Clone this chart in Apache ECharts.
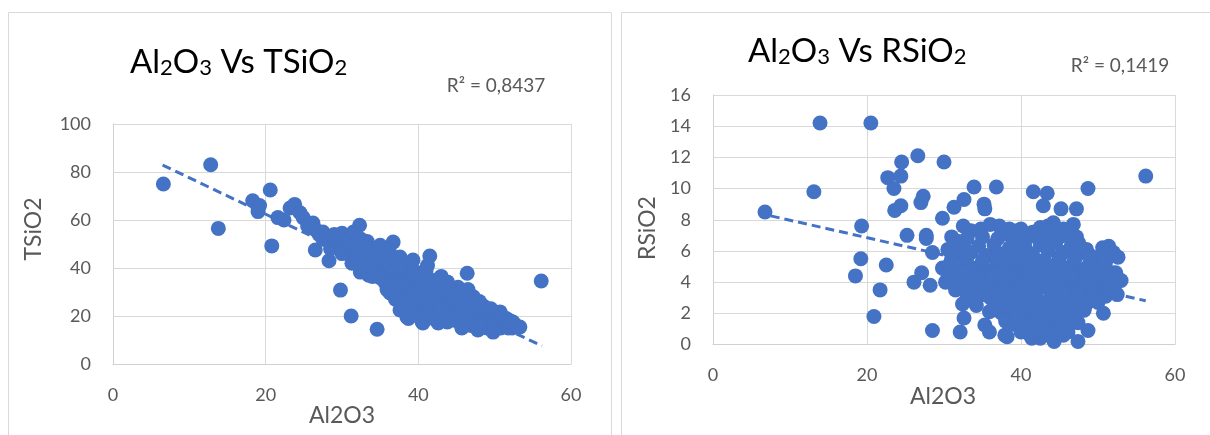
<!DOCTYPE html>
<html>
<head>
<meta charset="utf-8">
<script src="https://cdn.jsdelivr.net/npm/echarts@6/dist/echarts.min.js"></script>
<style>
  html, body { margin: 0; padding: 0; background: #fff; }
  #main { width: 1210px; height: 435px; }
</style>
</head>
<body>
<div id="main"></div>
<script>
// Al2O3 vs TSiO2 (left chart)
const tsioPoints = [
  [6.6,75],[12.8,83],[13.8,56.5],[20.6,72.5],[20.8,49.2],[18.3,68],[19.2,66],[19,63.5],[21.6,61],[22.4,60],
  [23.2,65],[23.8,66.5],[24.5,63],[24.9,61],[25.5,57.5],[26.2,58.7],[26.5,56],[26.5,47.5],[27,54],[27.5,52],
  [28,53],[28.3,43],[28.4,51],[29,50],[29.5,52],[29.8,30.8],[30,54.5],[30.2,49],[30.5,51],[31,52.5],
  [31,48],[31.2,20],[31.3,42],[31.5,46],[31.8,50],[32,47],[32.3,57.8],[32.4,38.3],[32.5,44],[32.8,49],
  [33,45],[33,40],[33.3,51],[33.5,37],[33.7,48],[34,44],[34,39],[34.2,42],[34.5,47],[34.6,14.5],
  [35,49.5],[35,45],[35,36],[35.3,40],[35.6,43],[35.6,34.2],[35.9,31],[36,38],[36.3,29.6],[36.5,41],
  [36.7,50.8],[36.8,44],[37,36],[37.3,33],[37.6,44.6],[37.6,22.5],[38,40],[38.2,30],[38.5,27],[38.5,19.6],
  [38.7,19],[38.8,37],[39,42],[39.3,43.3],[39.5,34],[39.8,31],[40,28],[40,38],[40.3,24],[40.5,17.5],
  [40.6,17.1],[40.8,35],[41,30],[41.2,41],[41.5,45],[41.5,26],[41.8,33],[42,22],[42.2,29],[42.4,35],
  [42.6,17.1],[42.8,26],[43,31],[43.3,20],[43.5,28],[43.8,34.2],[43.8,17.5],[44,24],[44.3,30],[44.5,21],
  [44.8,27],[45,18],[45.2,32],[45.5,24],[45.7,15],[45.9,29.6],[46,21],[46.3,26],[46.4,37.8],[46.5,18],
  [46.8,23],[47,16],[47.2,28],[47.5,20],[47.7,25.8],[47.8,14.2],[48,22],[48.3,17],[48.6,24],[48.8,19],
  [49,15],[49.3,21],[49.8,13.3],[50,18],[50.3,20],[50.7,21.7],[50.8,15],[51.2,17],[51.5,19],[51.8,15],
  [52.3,15],[52.4,17.5],[52.8,16],[53.3,15.4],[56.1,34.6],
  [27.5,55],[28.5,48],[29,54],[30,46],[31.5,55],[32.5,52],[33,47],[33.5,43],[34.5,40],[35.5,46],
  [36,42],[36.5,35],[37,39],[37.5,41],[34,36.5],[36.2,47],[38,33],[38.5,35],[39,29],[39.5,38],
  [40,33],[40.5,30],[41,36],[41.5,32],[42,27],[42.5,31],[43,25],[43.5,33],[44,28],[44.5,25],
  [39,25],[39.5,22],[41,21],[42,19],[43,22.5],[40,20],[45,26],[45,22],[46,28],[46.5,24],
  [47,19],[47,22],[48,26],[48.5,21],[49,18],[49.5,23],[50,16],[51,20],[52,18],[46,16],
  [48,15.5],[44.5,18.5],[45.5,20],[37,27],[38,24],[36.8,32],[41,38.5],[43,36.5],[44,32.5],[46.5,31]
];
const tsioTrend = [[6.5, 82.9], [56.2, 7.5]];

// Al2O3 vs RSiO2 (right chart)
const rsioPoints = [
  [6.75,8.5],[13.9,14.2],[20.5,14.2],[13.1,9.8],[19.3,7.6],[19.2,5.5],[18.5,4.4],[22.5,5.1],[21.7,3.5],[20.9,1.8],
  [26.6,12.1],[24.5,11.7],[30,11.7],[22.7,10.7],[24.4,10.8],[23.5,10],[23.6,8.6],[24.4,8.9],[27.3,9.5],[27,9.1],
  [25.2,7],[27.7,7],[27.7,6.8],[29.8,8.1],[32.5,7.6],[31.3,8.8],[32.6,9.3],[33.9,10.1],[36.8,10.1],[35.2,9],
  [35.3,8.7],[28.5,5.9],[26.1,4],[27.1,4.6],[28.2,3.8],[28.5,0.9],[32.1,0.8],[32.6,1.7],[32.4,2.6],[34.2,2.5],
  [35.9,2.1],[35.3,1.25],[35.9,0.8],[38.2,0.5],[41.6,9.8],[43.4,9.7],[42.9,8.9],[45.2,8.7],[47.2,8.7],[48.7,10],
  [56.2,10.8],[44.3,0.2],[47.4,0.2],[41.4,0.4],[42.5,0.4],[46.1,0.8],[47.4,1.4],[48.7,0.9],[50.7,2],[52.6,4.1],
  [52.6,5.6],[51.4,6.3],[50.6,6.2],[44.2,7.8],[46.8,7.7],[36.9,2.2],[37.9,0.6],
  [31,6.9],[32,6.6],[33.5,7.3],[34.8,7.4],[36,7.7],[37.2,7.6],[38.5,7.4],[39.5,7.3],[40.5,6.9],[41.5,7.2],
  [42.5,7.5],[43.5,7.6],[44.5,7.1],[45.5,7.4],[46.5,7.2],[47.2,6.9],[47.5,6.5],
  [30.5,6.1],[31.5,5.8],[32.5,6.2],[33.5,5.9],[34.5,6.3],[35.5,5.7],[36.5,6.4],[37.5,5.8],[38.5,6.2],[39.5,5.9],
  [40.5,6.3],[41.5,5.8],[42.5,6.4],[43.5,6],[44.5,6.5],[45.5,5.9],[46.5,6.3],[47.5,5.8],[48.5,6.1],[49.5,5.4],[50.5,5.7],
  [29.8,4.9],[30.8,5.2],[31.8,4.8],[32.8,5.3],[33.8,4.9],[34.8,5.1],[35.8,4.7],[36.8,5.3],[37.8,4.9],[38.8,5.2],
  [39.8,4.8],[40.8,5.3],[41.8,4.9],[42.8,5.2],[43.8,4.8],[44.8,5.3],[45.8,4.9],[46.8,5.2],[47.8,4.8],[48.8,5.1],
  [49.8,4.8],[50.8,5],[51.8,4.6],
  [30.2,4],[31.2,4.3],[32.2,3.8],[33.2,4.2],[34.2,3.9],[35.2,4.3],[36.2,3.7],[37.2,4.1],[38.2,3.8],[39.2,4.3],
  [40.2,3.9],[41.2,4.2],[42.2,3.7],[43.2,4.1],[44.2,3.8],[45.2,4.3],[46.2,3.9],[47.2,4.2],[48.2,3.8],[49.2,4.1],
  [50.2,3.7],[51.2,4],[52.2,3.8],[53,4.1],
  [33,3],[34,2.8],[35,3.2],[36,3],[37,2.7],[38,3.1],[39,2.9],[40,3.2],[41,2.8],[42,3.1],
  [43,2.7],[44,3.2],[45,2.9],[46,3.1],[47,2.8],[48,3.2],[49,3],[50,3.3],[51,3.1],
  [37.5,2],[38.5,1.8],[39.5,2.2],[40.5,1.9],[41.5,2.1],[42.5,1.7],[43.5,2.2],[44.5,1.9],[45.5,2.3],[46.5,2.1],
  [47.5,2.4],[48.2,2.2],
  [39,1.3],[40.5,1.1],[41.8,1.4],[43,1.2],[44,1.5],[45,1.1],[46,1.4],
  [33,6.8],[35,6.9],[37,6.8],[39,6.7],[41,6.9],[43,6.8],[45,6.9],[47,6.7],[38,7.1],[40,7.4],
  [42,7.0],[44,7.3],[46,7.0],
  [31,5.5],[33,5.6],[35,5.4],[37,5.6],[39,5.5],[41,5.6],[43,5.4],[45,5.6],[47,5.5],[49,5.7],
  [51,5.3],[52,5.9],
  [30.5,4.5],[32.5,4.6],[34.5,4.4],[36.5,4.6],[38.5,4.5],[40.5,4.6],[42.5,4.4],[44.5,4.6],[46.5,4.5],[48.5,4.6],
  [50.5,4.4],[52.3,4.6],
  [31.5,3.5],[33.5,3.4],[35.5,3.6],[37.5,3.5],[39.5,3.6],[41.5,3.4],[43.5,3.6],[45.5,3.5],[47.5,3.6],[49.5,3.4],
  [51.5,3.5],[52.5,3.2],
  [36.5,2.4],[38,2.5],[39.5,2.6],[41,2.4],[42.5,2.6],[44,2.5],[45.5,2.6],[47,2.4],[48.5,2.6],[50,2.7],
  [38,1.5],[39.5,1.7],[42,1.6],[43.5,1.7],[45,1.6],[46.7,1.7],
  [40,0.8],[41,0.7],[42,1.0],[43,0.6],[44.5,0.8],[45.5,0.6]
];
const rsioTrend = [[7.5, 8.25], [56.2, 2.8]];

const xTicks = { min: 0, max: 60, interval: 20 };
const tsioTicks = { min: 0, max: 100, interval: 20 };
const rsioTicks = { min: 0, max: 16, interval: 2 };

const FONT = 'Lato';
const GREY = '#595959';
const BLUE = '#4472C4';

function makeAxis(ticks, idx) {
  return {
    type: 'value',
    gridIndex: idx,
    min: ticks.min,
    max: ticks.max,
    interval: ticks.interval,
    axisLine: { show: true, lineStyle: { color: '#d0d0d0', width: 1 } },
    axisTick: { show: false },
    splitLine: { show: true, lineStyle: { color: '#d9d9d9', width: 1 } },
    axisLabel: { color: GREY, fontFamily: FONT, fontSize: 18, margin: 22 }
  };
}

function titleText(x, y, rest) {
  return {
    type: 'text',
    left: x, top: y,
    style: {
      text: '{a|Al}{b|2}{a|O}{b|3}{a|' + rest + '}{b|2}',
      rich: {
        a: { fontFamily: FONT, fontSize: 33, color: GREY, verticalAlign: 'bottom', lineHeight: 36 },
        b: { fontFamily: FONT, fontSize: 22, color: GREY, verticalAlign: 'bottom', lineHeight: 30 }
      }
    }
  };
}

function plainText(x, y, text, size, rotate) {
  return {
    type: 'text',
    x: x, y: y,
    rotation: rotate ? Math.PI / 2 : 0,
    style: {
      text: text, fontFamily: FONT, fontSize: size, fill: GREY,
      align: 'center', verticalAlign: 'middle'
    }
  };
}

const chart = echarts.init(document.getElementById('main'));
chart.setOption({
  animation: false,
  grid: [
    { left: 113, top: 124, width: 458, height: 240 },
    { left: 713, top: 95, width: 462, height: 249.5 }
  ],
  xAxis: [makeAxis(xTicks, 0), makeAxis(xTicks, 1)],
  yAxis: [makeAxis(tsioTicks, 0), makeAxis(rsioTicks, 1)],
  graphic: [
    { type: 'rect', shape: { x: 8.5, y: 12.5, width: 603, height: 440 },
      style: { fill: 'none', stroke: '#d9d9d9', lineWidth: 1 }, silent: true },
    { type: 'rect', shape: { x: 621.5, y: 12.5, width: 600, height: 440 },
      style: { fill: 'none', stroke: '#d9d9d9', lineWidth: 1 }, silent: true },
    titleText(130, 46, ' Vs TSiO'),
    titleText(748, 35, ' Vs RSiO'),
    plainText(496, 86, 'R² = 0,8437', 19),
    plainText(1120, 66, 'R² = 0,1419', 19),
    plainText(342, 416, 'Al2O3', 23),
    plainText(943, 397, 'Al2O3', 23),
    plainText(34, 229, 'TSiO2', 23, true),
    plainText(648, 228, 'RSiO2', 23, true)
  ],
  series: [
    {
      type: 'scatter', xAxisIndex: 0, yAxisIndex: 0,
      data: tsioPoints, symbolSize: 15,
      itemStyle: { color: BLUE, opacity: 1 }
    },
    {
      type: 'line', xAxisIndex: 0, yAxisIndex: 0,
      data: tsioTrend, symbol: 'none', z: 5,
      lineStyle: { color: BLUE, width: 3, type: [9, 5] }
    },
    {
      type: 'scatter', xAxisIndex: 1, yAxisIndex: 1,
      data: rsioPoints, symbolSize: 15,
      itemStyle: { color: BLUE, opacity: 1 }
    },
    {
      type: 'line', xAxisIndex: 1, yAxisIndex: 1,
      data: rsioTrend, symbol: 'none', z: 5,
      lineStyle: { color: BLUE, width: 3, type: [9, 5] }
    }
  ]
});
</script>
</body>
</html>
